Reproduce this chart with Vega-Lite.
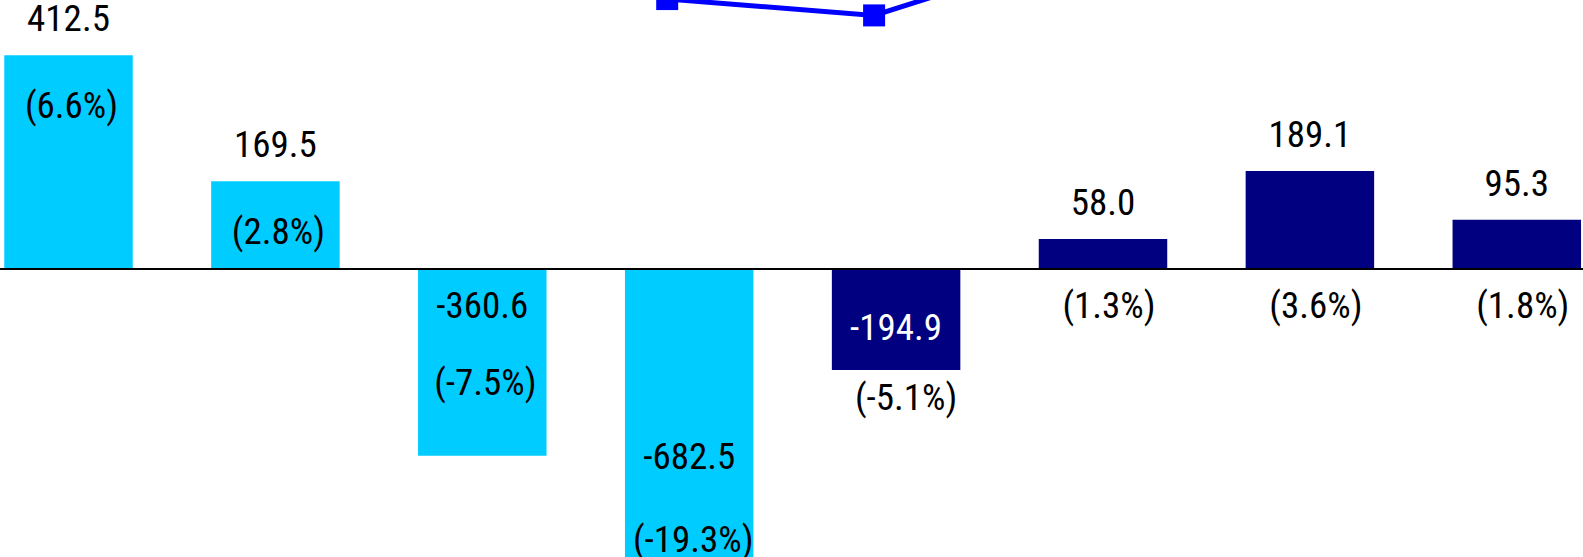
{
  "$schema": "https://vega.github.io/schema/vega-lite/v6.json",
  "width": 1583,
  "height": 557,
  "padding": 0,
  "autosize": {"type": "none"},
  "background": "white",
  "config": {
    "locale": {"number": {"decimal": ".", "thousands": ",", "grouping": [3], "currency": ["$", ""], "minus": "-"}},
    "view": {"stroke": null},
    "text": {"font": "'Roboto Condensed', 'DejaVu Sans Condensed', 'DejaVu Sans', sans-serif", "fontSize": 37, "baseline": "middle", "align": "center", "color": "#000000"}
  },
  "datasets": {
    "bars": [
      {"cat": "1", "value": 412.5, "pct": "(6.6%)", "kind": "A"},
      {"cat": "2", "value": 169.5, "pct": "(2.8%)", "kind": "A"},
      {"cat": "3", "value": -360.6, "pct": "(-7.5%)", "kind": "A"},
      {"cat": "4", "value": -682.5, "pct": "(-19.3%)", "kind": "A"},
      {"cat": "5", "value": -194.9, "pct": "(-5.1%)", "kind": "B"},
      {"cat": "6", "value": 58.0, "pct": "(1.3%)", "kind": "B"},
      {"cat": "7", "value": 189.1, "pct": "(3.6%)", "kind": "B"},
      {"cat": "8", "value": 95.3, "pct": "(1.8%)", "kind": "B"}
    ],
    "line": [
      {"cat": "4", "v": 10.05},
      {"cat": "5", "v": 9.17},
      {"cat": "6", "v": 12.7}
    ]
  },
  "resolve": {"scale": {"x": "independent", "y": "independent"}},
  "layer": [
    {
      "data": {"name": "bars"},
      "encoding": {
        "x": {"field": "cat", "type": "nominal", "axis": null, "scale": {"type": "band", "domain": ["1","2","3","4","5","6","7","8"], "range": [-34.95, 1620.25], "paddingInner": 0.379, "paddingOuter": 0.1895}},
        "y": {"field": "value", "type": "quantitative", "axis": null, "scale": {"domain": [-556, 519.3], "nice": false, "zero": false}}
      },
      "layer": [
        {
          "mark": {"type": "bar"},
          "encoding": {
            "color": {"field": "kind", "type": "nominal", "legend": null, "scale": {"domain": ["A", "B"], "range": ["#00CCFF", "#000080"]}}
          }
        },
        {
          "mark": {"type": "rule", "color": "#000000", "strokeWidth": 2},
          "encoding": {"x": null, "y": {"datum": 0, "type": "quantitative"}}
        },
        {
          "transform": [{"filter": "datum.value > 0"}],
          "mark": {"type": "text", "dy": -35},
          "encoding": {"text": {"field": "value", "type": "quantitative", "format": ".1f"}}
        },
        {
          "transform": [{"filter": "datum.cat == '3'"}],
          "mark": {"type": "text", "dy": 38},
          "encoding": {"y": {"datum": 0, "type": "quantitative"}, "text": {"field": "value", "type": "quantitative", "format": ".1f"}}
        },
        {
          "transform": [{"filter": "datum.cat == '4'"}],
          "mark": {"type": "text", "dy": -165},
          "encoding": {"text": {"field": "value", "type": "quantitative", "format": ".1f"}}
        },
        {
          "transform": [{"filter": "datum.cat == '5'"}],
          "mark": {"type": "text", "dy": -41, "color": "#FFFFFF"},
          "encoding": {"text": {"field": "value", "type": "quantitative", "format": ".1f"}}
        },
        {
          "transform": [{"filter": "datum.cat == '1' || datum.cat == '2'"}],
          "mark": {"type": "text", "dy": 52, "dx": 3},
          "encoding": {"text": {"field": "pct", "type": "nominal"}}
        },
        {
          "transform": [{"filter": "datum.cat == '6' || datum.cat == '7' || datum.cat == '8'"}],
          "mark": {"type": "text", "dy": 38, "dx": 6},
          "encoding": {"y": {"datum": 0, "type": "quantitative"}, "text": {"field": "pct", "type": "nominal"}}
        },
        {
          "transform": [{"filter": "datum.cat == '3'"}],
          "mark": {"type": "text", "dy": -72, "dx": 3},
          "encoding": {"text": {"field": "pct", "type": "nominal"}}
        },
        {
          "transform": [{"filter": "datum.cat == '4'"}],
          "mark": {"type": "text", "dy": -82, "dx": 4},
          "encoding": {"text": {"field": "pct", "type": "nominal"}}
        },
        {
          "transform": [{"filter": "datum.cat == '5'"}],
          "mark": {"type": "text", "dy": 29, "dx": 10},
          "encoding": {"text": {"field": "pct", "type": "nominal"}}
        }
      ]
    },
    {
      "data": {"name": "line"},
      "encoding": {
        "x": {"field": "cat", "type": "nominal", "axis": null, "scale": {"type": "point", "domain": ["1","2","3","4","5","6","7","8"], "range": [-56.95, 1598.25], "padding": 0.5}},
        "y": {"field": "v", "type": "quantitative", "axis": null, "scale": {"domain": [-20, 10], "nice": false, "zero": false}}
      },
      "layer": [
        {"mark": {"type": "line", "color": "#0000FF", "strokeWidth": 5}},
        {"mark": {"type": "point", "shape": "square", "size": 484, "filled": true, "opacity": 1, "color": "#0000FF"}}
      ]
    }
  ]
}
